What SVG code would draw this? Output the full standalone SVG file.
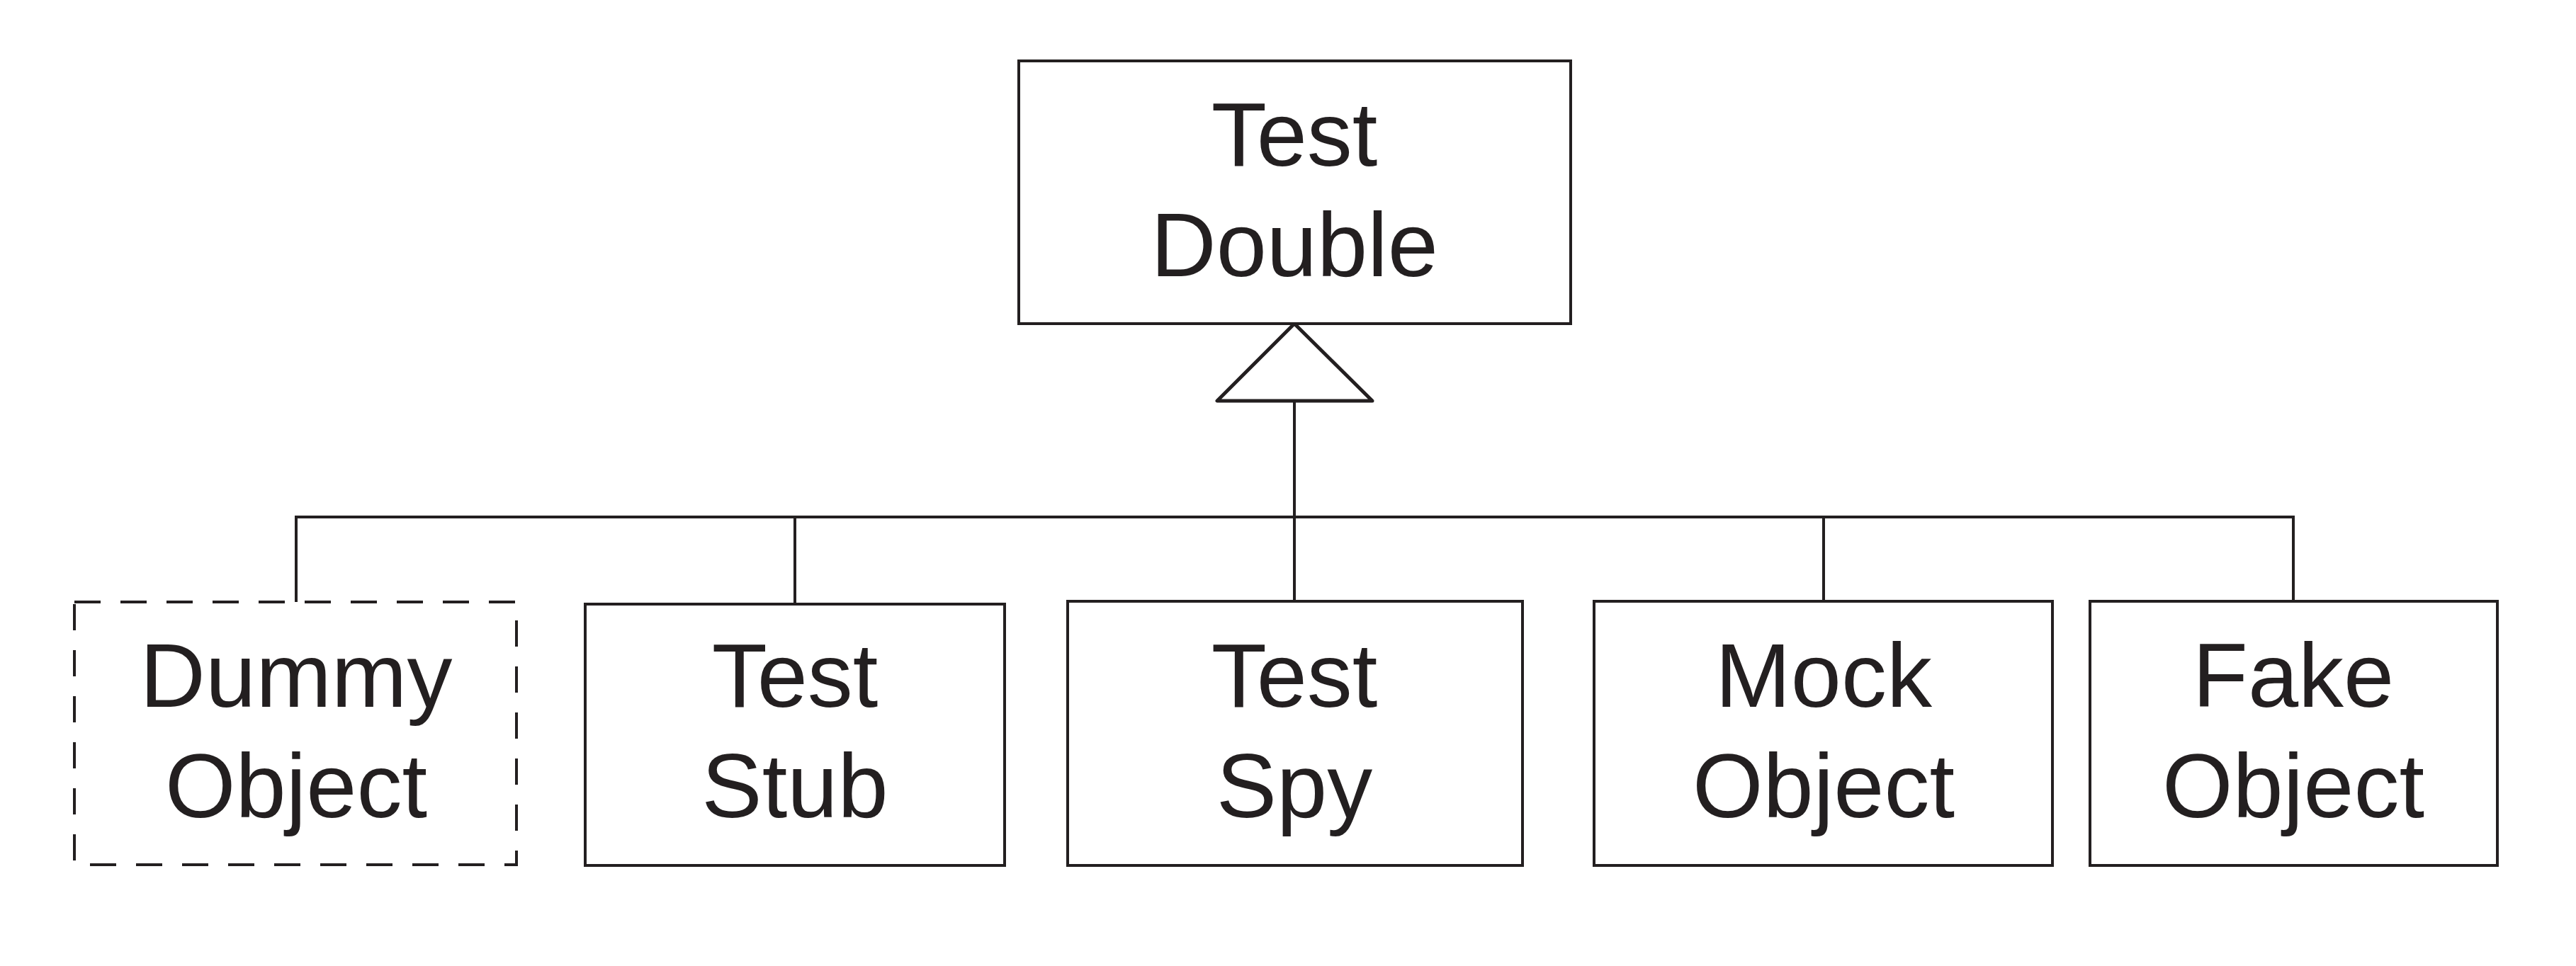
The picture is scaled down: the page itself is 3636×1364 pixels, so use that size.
<svg xmlns="http://www.w3.org/2000/svg" width="3636" height="1364" viewBox="0 0 3636 1364">
<style>
.box{fill:#fff;stroke:#231f20;stroke-width:4}
.dash{stroke-dasharray:37 28}
.lbl{font-family:"Liberation Sans",Arial,Helvetica,sans-serif;font-size:128px;fill:#231f20;text-anchor:middle}
.ln{fill:none;stroke:#231f20;stroke-width:4}
</style>
<rect width="3636" height="1364" fill="#fff"/>
<g id="connectors">
<path class="ln" d="M418 850 V730 H3237 V849"/>
<path class="ln" d="M1122 730 V853"/>
<path class="ln" d="M2574 730 V849"/>
<path class="ln" stroke-width="5" d="M1827 849 V566"/>
<polygon points="1827,457 1718,566 1937,566" fill="#fff" stroke="#231f20" stroke-width="5" stroke-linejoin="round"/>
</g>
<g id="test-double">
<rect class="box" x="1438" y="86" width="779" height="371"/>
<text class="lbl" x="1827" y="234">Test</text>
<text class="lbl" x="1827" y="390">Double</text>
</g>
<g id="dummy-object">
<rect class="box dash" x="105" y="850" width="624" height="371"/>
<text class="lbl" x="418" y="998">Dummy</text>
<text class="lbl" x="418" y="1154">Object</text>
</g>
<g id="test-stub">
<rect class="box" x="826" y="853" width="592" height="369"/>
<text class="lbl" x="1122" y="998">Test</text>
<text class="lbl" x="1122" y="1154">Stub</text>
</g>
<g id="test-spy">
<rect class="box" x="1507" y="849" width="642" height="373"/>
<text class="lbl" x="1827" y="998">Test</text>
<text class="lbl" x="1827" y="1154">Spy</text>
</g>
<g id="mock-object">
<rect class="box" x="2250" y="849" width="647" height="373"/>
<text class="lbl" x="2574" y="998">Mock</text>
<text class="lbl" x="2574" y="1154">Object</text>
</g>
<g id="fake-object">
<rect class="box" x="2950" y="849" width="575" height="373"/>
<text class="lbl" x="3237" y="998">Fake</text>
<text class="lbl" x="3237" y="1154">Object</text>
</g>
</svg>
